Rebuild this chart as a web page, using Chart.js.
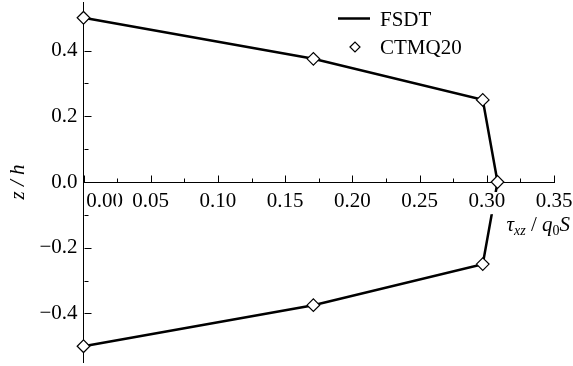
<!DOCTYPE html>
<html>
<head>
<meta charset="utf-8">
<script src="https://cdn.jsdelivr.net/npm/chart.js@4/dist/chart.umd.min.js"></script>
<style>
    html, body { margin: 0; padding: 0; background: #fff; }
</style>
</head>
<body>
<canvas id="shearChart" width="573" height="366"></canvas>
<script>
// ========================================
// DATA
// ========================================
const zLevels = [0.5, 0.375, 0.25, 0, -0.25, -0.375, -0.5];
const fsdtTau = [0, 0.171, 0.297, 0.308, 0.297, 0.171, 0];
const ctmqTau = [0, 0.171, 0.297, 0.308, 0.297, 0.171, 0];

const xTickValues = [0, 0.025, 0.05, 0.075, 0.1, 0.125, 0.15, 0.175, 0.2, 0.225, 0.25, 0.275, 0.3, 0.325, 0.35];
const xTickLabels = ['0.00', '0.05', '0.10', '0.15', '0.20', '0.25', '0.30', '0.35'];
const yTickValues = [-0.5, -0.4, -0.3, -0.2, -0.1, 0, 0.1, 0.2, 0.3, 0.4, 0.5];
const yTickLabels = { '-0.4': '\u22120.4', '-0.2': '\u22120.2', '0': '0.0', '0.2': '0.2', '0.4': '0.4' };

const FONT = 'Liberation Serif';
const INK = '#000';

// ========================================
// PLUGINS
// ========================================

// Inward tick marks, long for labelled ticks, short otherwise
const tickMarks = {
    id: 'tickMarks',
    beforeDatasetsDraw(chart) {
        const { ctx, scales: { x, y } } = chart;
        const xAxisY = Math.round(y.getPixelForValue(0)) + 0.5;
        const yAxisX = Math.round(x.getPixelForValue(0)) + 0.5;
        ctx.save();
        ctx.strokeStyle = INK;
        ctx.lineWidth = 1;
        ctx.beginPath();
        x.ticks.forEach(t => {
            const px = Math.round(x.getPixelForValue(t.value)) + 0.5;
            const len = t.label ? 7 : 4;
            ctx.moveTo(px, xAxisY);
            ctx.lineTo(px, xAxisY - len);
        });
        y.ticks.forEach(t => {
            const py = Math.round(y.getPixelForValue(t.value)) + 0.5;
            const len = t.label ? 7 : 4;
            ctx.moveTo(yAxisX, py);
            ctx.lineTo(yAxisX + len, py);
        });
        ctx.stroke();
        ctx.restore();
    }
};

// Vertical legend in the upper right
const boxLegend = {
    id: 'boxLegend',
    afterDraw(chart) {
        const { ctx } = chart;
        const [line, pts] = chart.data.datasets;
        ctx.save();
        ctx.font = '21px "' + FONT + '"';
        ctx.fillStyle = INK;
        ctx.textBaseline = 'alphabetic';

        // line sample
        ctx.strokeStyle = line.borderColor;
        ctx.lineWidth = line.borderWidth;
        ctx.beginPath();
        ctx.moveTo(338, 18.5);
        ctx.lineTo(370, 18.5);
        ctx.stroke();
        ctx.fillText(line.label, 380, 26);

        // marker sample
        ctx.lineWidth = pts.borderWidth;
        ctx.strokeStyle = pts.borderColor;
        ctx.fillStyle = pts.backgroundColor;
        const r = 5;
        ctx.beginPath();
        ctx.moveTo(355 - r, 47);
        ctx.lineTo(355, 47 - r);
        ctx.lineTo(355 + r, 47);
        ctx.lineTo(355, 47 + r);
        ctx.closePath();
        ctx.fill();
        ctx.stroke();
        ctx.fillStyle = INK;
        ctx.fillText(pts.label, 380, 54);
        ctx.restore();
    }
};

// x-axis title with subscripts: tau_xz / q_0 S
const xTitleParts = [
    { text: '\u03C4', italic: true, size: 21, dy: 0 },
    { text: 'xz', italic: true, size: 14, dy: 4 },
    { text: ' / ', italic: false, size: 21, dy: 0 },
    { text: 'q', italic: true, size: 21, dy: 0 },
    { text: '0', italic: false, size: 14, dy: 4 },
    { text: 'S', italic: true, size: 21, dy: 0 }
];

const xTitle = {
    id: 'xTitle',
    afterDraw(chart) {
        const { ctx } = chart;
        const fontOf = p => (p.italic ? 'italic ' : '') + p.size + 'px "' + FONT + '"';
        ctx.save();
        ctx.fillStyle = INK;
        ctx.textBaseline = 'alphabetic';
        let total = 0;
        xTitleParts.forEach(p => { ctx.font = fontOf(p); total += ctx.measureText(p.text).width; });
        let cx = 570 - total;
        const baseY = 231;
        xTitleParts.forEach(p => {
            ctx.font = fontOf(p);
            ctx.fillText(p.text, cx, baseY + p.dy);
            cx += ctx.measureText(p.text).width;
        });
        ctx.restore();
    }
};

// ========================================
// CHART
// ========================================
function createShearChart() {
    const ctx = document.getElementById('shearChart');

    new Chart(ctx, {
        type: 'scatter',
        data: {
            datasets: [
                {
                    label: 'FSDT',
                    data: zLevels.map((z, i) => ({ x: fsdtTau[i], y: z })),
                    showLine: true,
                    borderColor: INK,
                    borderWidth: 2.5,
                    pointRadius: 0,
                    pointHoverRadius: 0,
                    clip: false,
                    order: 2
                },
                {
                    label: 'CTMQ20',
                    data: zLevels.map((z, i) => ({ x: ctmqTau[i], y: z })),
                    showLine: false,
                    pointStyle: 'rectRot',
                    pointRadius: 6.3,
                    borderColor: INK,
                    borderWidth: 1.2,
                    backgroundColor: '#fff',
                    clip: false,
                    order: 1
                }
            ]
        },
        options: {
            responsive: false,
            animation: false,
            devicePixelRatio: 1,
            layout: {
                autoPadding: false,
                padding: { left: 0.5, right: 19, top: 2, bottom: 4 }
            },
            plugins: {
                legend: { display: false },
                tooltip: { enabled: false }
            },
            scales: {
                x: {
                    type: 'linear',
                    position: { y: 0 },
                    min: 0,
                    max: 0.35,
                    afterBuildTicks: s => { s.ticks = xTickValues.map(v => ({ value: v })); },
                    afterFit: s => { s.paddingLeft = 0; s.paddingRight = 0; },
                    grid: { display: false, drawTicks: false },
                    border: { display: true, color: INK, width: 1 },
                    ticks: {
                        z: 1,
                        padding: 7,
                        autoSkip: false,
                        maxRotation: 0,
                        color: INK,
                        font: { family: FONT, size: 21 },
                        showLabelBackdrop: true,
                        backdropColor: c => c.index === 0 ? 'rgba(0,0,0,0)' : '#fff',
                        backdropPadding: { top: -3, bottom: 0, left: 1, right: 1 },
                        callback: (value, index) => {
                            if (index % 2) return '';
                            const lbl = xTickLabels[index / 2];
                            return index === 0 ? '        ' + lbl : lbl;
                        }
                    }
                },
                y: {
                    type: 'linear',
                    position: 'left',
                    min: -0.548,
                    max: 0.548,
                    afterBuildTicks: s => { s.ticks = yTickValues.map(v => ({ value: v })); },
                    afterFit: s => { s.width = 83; s.paddingTop = 0; s.paddingBottom = 0; },
                    grid: { display: false, drawTicks: false },
                    border: { display: true, color: INK, width: 1 },
                    title: {
                        display: true,
                        text: 'z / h',
                        color: INK,
                        font: { family: FONT, size: 21, style: 'italic', lineHeight: 1.2 },
                        padding: { top: 5, bottom: 0 }
                    },
                    ticks: {
                        padding: 6,
                        autoSkip: false,
                        color: INK,
                        font: { family: FONT, size: 21 },
                        callback: value => {
                            const key = String(Math.round(value * 10) / 10);
                            return yTickLabels[key] || '';
                        }
                    }
                }
            }
        },
        plugins: [tickMarks, boxLegend, xTitle]
    });
}

createShearChart();
</script>
</body>
</html>
